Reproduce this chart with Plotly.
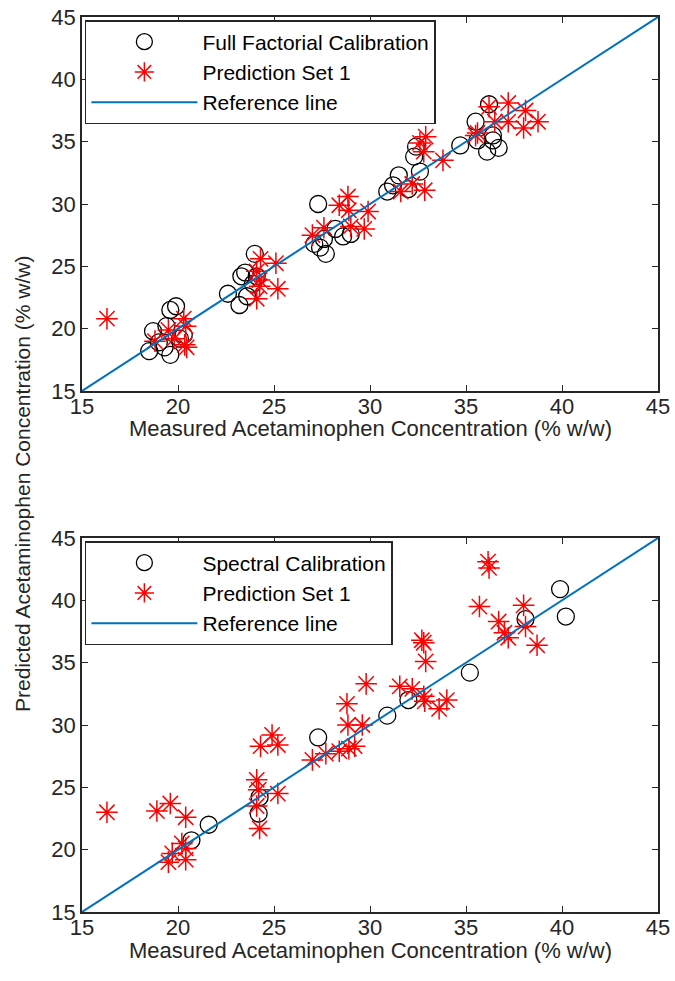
import plotly.graph_objects as go

# ---------------- data ----------------
top_cal_x = [18.5, 18.7, 19.0, 19.3, 19.6, 19.4, 19.6, 19.9, 20.3, 20.1,
             22.6, 23.2, 23.3, 23.5, 24.0, 23.6, 24.1, 23.9,
             27.3, 27.1, 27.4, 27.7, 27.6, 28.2, 28.6, 29.0,
             30.9, 31.2, 31.5, 32.0, 32.6, 32.3, 32.4,
             34.7, 35.5, 36.2, 35.6, 36.1, 36.4, 36.7, 36.4]
top_cal_y = [18.2, 19.8, 18.9, 18.5, 17.9, 20.2, 21.5, 21.8, 19.5, 19.2,
             22.8, 21.9, 24.2, 24.5, 26.0, 22.6, 24.2, 23.6,
             30.0, 26.8, 26.5, 26.0, 27.2, 28.0, 27.4, 27.6,
             31.0, 31.5, 32.3, 31.2, 32.6, 33.8, 34.6,
             34.7, 36.6, 38.0, 35.1, 34.2, 35.1, 34.5, 35.5]

top_pred_x = [16.3, 18.8, 19.5, 19.8, 20.3, 20.4, 20.35, 20.45,
              24.3, 24.1, 24.25, 24.25, 24.1, 25.1, 25.2,
              27.0, 27.6, 28.85, 28.4, 28.9, 29.9, 29.0, 29.7,
              31.6, 32.2, 32.85, 32.9, 32.6, 32.8, 33.8, 35.5,
              36.2, 37.2, 38.1, 38.75, 38.0, 37.2, 36.5, 35.6]
top_pred_y = [20.8, 19.0, 19.9, 19.2, 20.8, 20.2, 18.7, 18.5,
              25.6, 24.6, 23.9, 23.4, 22.4, 25.25, 23.2,
              27.5, 28.1, 30.6, 29.9, 29.5, 29.4, 28.2, 28.0,
              31.0, 31.6, 31.1, 35.4, 34.9, 34.2, 33.5, 35.5,
              37.8, 38.1, 37.5, 36.6, 36.1, 36.6, 36.6, 35.7]

bot_cal_x = [20.7, 21.6, 24.25, 24.2, 27.3, 30.9, 32.0, 35.2, 38.1, 39.9, 40.2]
bot_cal_y = [20.75, 22.0, 24.2, 22.9, 29.0, 30.75, 32.0, 34.2, 38.5, 40.9, 38.7]

bot_pred_x = [16.3, 18.9, 19.6, 20.4, 19.5, 19.7, 20.2, 20.4, 20.4,
              24.1, 24.2, 24.1, 24.25, 25.2, 24.3, 24.9, 25.2,
              27.0, 27.7, 28.4, 28.9, 29.2, 28.85, 29.6, 28.8, 29.8,
              31.55, 32.2, 32.8, 32.85, 33.6, 34.0, 32.7, 32.8, 32.9,
              36.15, 36.2, 35.7, 36.7, 37.2, 37.0, 38.0, 38.1, 38.7]
bot_pred_y = [23.0, 23.1, 23.7, 22.6, 19.0, 19.7, 20.5, 20.1, 19.2,
              25.6, 24.8, 23.5, 21.7, 24.5, 28.3, 29.2, 28.4,
              27.2, 27.7, 27.9, 28.1, 28.3, 30.0, 30.0, 31.7, 33.3,
              33.1, 32.9, 32.3, 31.9, 31.3, 32.0, 36.8, 36.6, 35.1,
              43.1, 42.6, 39.5, 38.3, 37.0, 37.4, 39.6, 37.9, 36.4]

ref_x = [15, 45]
ref_y = [15, 45]

tick_vals = [15, 20, 25, 30, 35, 40, 45]
x_title = "Measured Acetaminophen Concentration (% w/w)"
y_title = "Predicted Acetaminophen Concentration (% w/w)"

# ---------------- style ----------------
FONT = "Liberation Sans, Arial, sans-serif"
AX = "#262626"
circle_m = dict(symbol="circle-open", size=17, color="black", line=dict(width=1.3, color="black"))
star_m = dict(symbol="asterisk-open", size=18, color="#FF0000", line=dict(width=1.5, color="#FF0000"))
ref_l = dict(color="#0072BD", width=2)

fig = go.Figure()
fig.add_trace(go.Scatter(x=top_cal_x, y=top_cal_y, mode="markers", marker=circle_m,
                         name="Full Factorial Calibration", xaxis="x", yaxis="y", legend="legend"))
fig.add_trace(go.Scatter(x=top_pred_x, y=top_pred_y, mode="markers", marker=star_m,
                         name="Prediction Set 1", xaxis="x", yaxis="y", legend="legend"))
fig.add_trace(go.Scatter(x=ref_x, y=ref_y, mode="lines", line=ref_l,
                         name="Reference line", xaxis="x", yaxis="y", legend="legend"))

fig.add_trace(go.Scatter(x=bot_cal_x, y=bot_cal_y, mode="markers", marker=circle_m,
                         name="Spectral Calibration", xaxis="x2", yaxis="y2", legend="legend2"))
fig.add_trace(go.Scatter(x=bot_pred_x, y=bot_pred_y, mode="markers", marker=star_m,
                         name="Prediction Set 1", xaxis="x2", yaxis="y2", legend="legend2"))
fig.add_trace(go.Scatter(x=ref_x, y=ref_y, mode="lines", line=ref_l,
                         name="Reference line", xaxis="x2", yaxis="y2", legend="legend2"))

axis_common = dict(range=[15, 45], tickvals=tick_vals, ticks="inside", ticklen=6,
                   tickwidth=1.2, tickcolor=AX, showline=True, linecolor=AX, linewidth=1.5,
                   mirror="ticks", showgrid=False, zeroline=False, automargin=False,
                   ticklabeloverflow="allow",
                   tickfont=dict(family=FONT, size=22, color=AX))

W, H = 675, 981
ML, MR, MT, MB = 82, 17, 17, 69
plot_w = W - ML - MR
plot_h = H - MT - MB
# top axes: 17..391 px ; bottom axes: 538..912 px
top_dom = [(912 - 391) / plot_h, 1.0]
bot_dom = [0.0, 374 / plot_h]


def py(px):
    return (912 - px) / plot_h


fig.update_layout(
    width=W, height=H,
    margin=dict(l=ML, r=MR, t=MT, b=MB),
    plot_bgcolor="white", paper_bgcolor="white",
    font=dict(family=FONT, color=AX),
    xaxis=dict(axis_common, domain=[0, 1], anchor="y", ticklabelstandoff=-5),
    yaxis=dict(axis_common, domain=top_dom, anchor="x"),
    xaxis2=dict(axis_common, domain=[0, 1], anchor="y2", ticklabelstandoff=-5),
    yaxis2=dict(axis_common, domain=bot_dom, anchor="x2"),
    legend=dict(x=0.005, y=top_dom[1] - 3 / plot_h, xanchor="left", yanchor="top",
                bgcolor="white", bordercolor=AX, borderwidth=1.5,
                font=dict(family=FONT, size=21, color="black"), itemwidth=106, tracegroupgap=0),
    legend2=dict(x=0.005, y=bot_dom[1] - 3 / plot_h, xanchor="left", yanchor="top",
                 bgcolor="white", bordercolor=AX, borderwidth=1.5,
                 font=dict(family=FONT, size=21, color="black"), itemwidth=106, tracegroupgap=0),
    annotations=[
        dict(text=y_title, textangle=-90, xref="paper", yref="paper",
             x=(22 - ML) / plot_w, y=py(484), xanchor="center", yanchor="middle",
             showarrow=False, font=dict(family=FONT, size=21, color=AX)),
        dict(text=x_title, xref="paper", yref="paper", x=0.5, y=py(428),
             xanchor="center", yanchor="middle", showarrow=False,
             font=dict(family=FONT, size=22, color=AX)),
        dict(text=x_title, xref="paper", yref="paper", x=0.5, y=py(950),
             xanchor="center", yanchor="middle", showarrow=False,
             font=dict(family=FONT, size=22, color=AX)),
    ],
)

fig.write_html("out.html", config={"displayModeBar": False},
               post_script="document.body.style.margin='0';document.body.style.overflow='hidden';")
